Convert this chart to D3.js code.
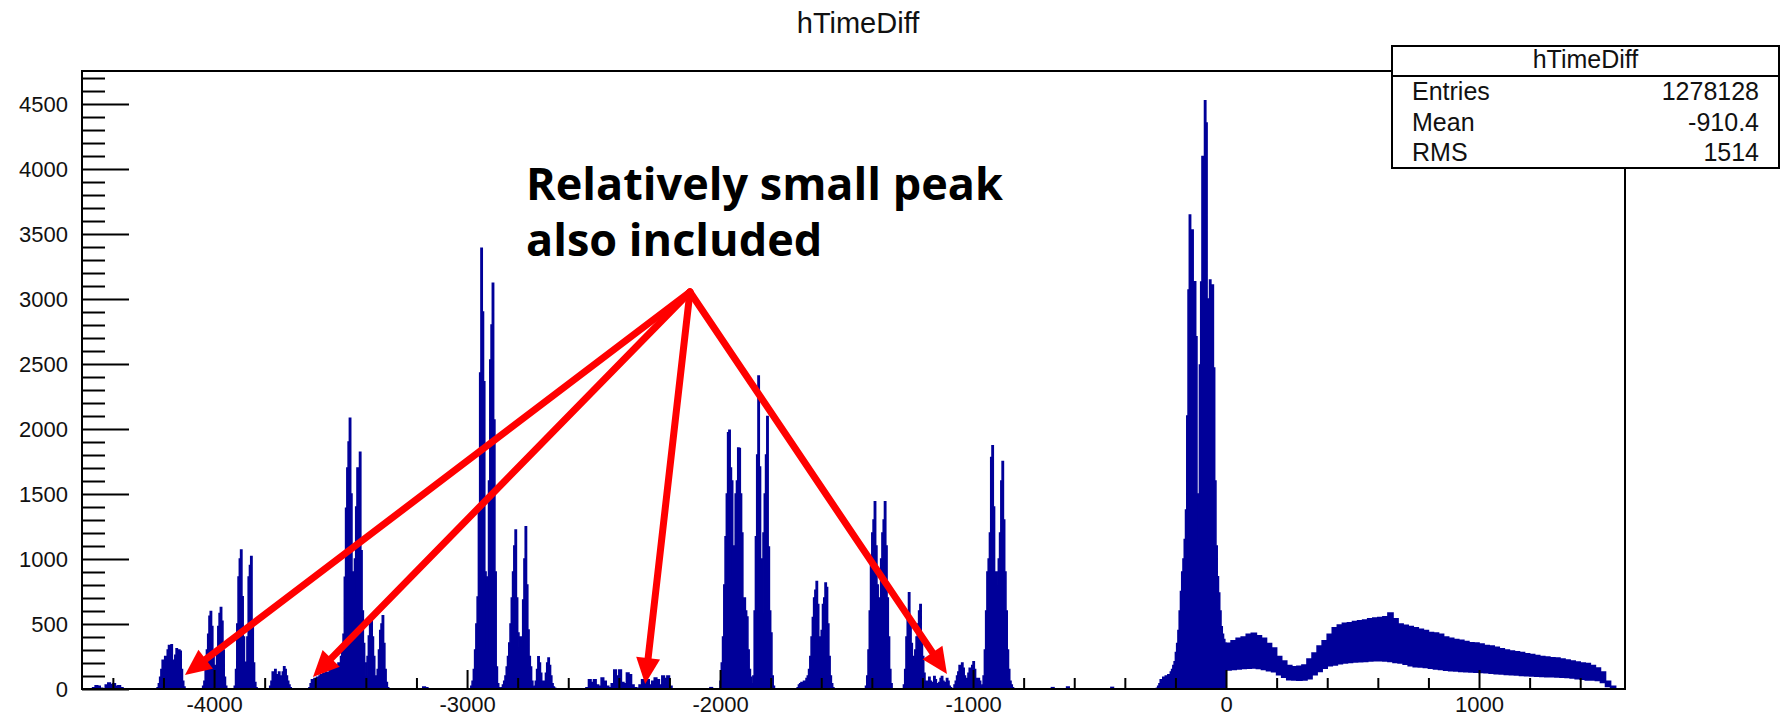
<!DOCTYPE html>
<html>
<head>
<meta charset="utf-8">
<title>hTimeDiff</title>
<script src="https://cdn.jsdelivr.net/npm/d3@7"></script>
<style>
  body { margin: 0; background: #fff; }
  svg { display: block; }
</style>
</head>
<body>
<div id="chart"></div>
<script>
// ---- values ----
const histName = "hTimeDiff";
const xRange = [-4522, 1577];
const yMax = 4754;
const xMajorTicks = [-4000, -3000, -2000, -1000, 0, 1000];
const yMajorTicks = [0, 500, 1000, 1500, 2000, 2500, 3000, 3500, 4000, 4500];
const statsLabels = ["Entries", "Mean", "RMS"];
const statsValues = ["1278128", "-910.4", "1514"];
const noteLines = ["Relatively small peak", "also included"];

// peak groups: counts per bin, [start, binWidth] below
const g4480 = [10, 25, 20, 5, 0, 30, 45, 35, 40, 20, 25, 10];
const g4225 = [10, 40, 90, 150, 220, 160, 250, 200, 300, 335, 250, 340, 220, 180, 260, 310, 200, 300, 290, 150, 60, 15];
const g4045 = [20, 60, 150, 300, 420, 560, 596, 480, 250, 100, 180, 300, 480, 580, 626, 520, 300, 90, 20];
const g3920 = [20, 150, 500, 861, 1000, 1068, 710, 400, 205, 180, 400, 861, 950, 1018, 508, 200, 50, 10];
const g3780 = [20, 60, 130, 100, 150, 90, 110, 130, 70, 100, 130, 170, 150, 100, 60, 30, 10];
const g3625 = [10, 40, 70, 55, 80, 60, 90, 70, 100, 110, 90, 120, 105, 130, 110, 125, 140, 120, 150, 165, 140, 180, 170, 200,
  200, 250, 300, 420, 860, 1390, 1700, 1900, 2082, 1500, 900, 700, 1000, 1400, 1700, 1600, 1820, 1063, 600, 350, 200,
  100, 250, 407, 500, 533, 400, 250, 100, 80, 150, 300, 450, 500, 563, 350, 150, 50, 10];
const g3175 = [15, 10];
const g2985 = [20, 60, 150, 300, 500, 708, 1400, 2430, 3390, 2900, 2364, 900, 277, 861, 1600, 2531, 2800, 3120, 2069, 900, 169, 40, 10];
const g2865 = [10, 30, 60, 100, 169, 250, 354, 500, 700, 900, 1100, 1223, 700, 431, 323, 400, 323, 685, 1000, 1248, 800, 454, 250, 169, 60, 15];
const g2735 = [20, 60, 150, 248, 200, 120, 60, 30, 60, 120, 200, 238, 180, 100, 40, 15, 5];
const g2530 = [10, 70, 50, 70, 30, 20, 85, 60, 20, 10, 40, 146, 100, 146, 50, 40, 123, 110, 30, 10, 5, 30, 70, 50, 70, 30, 60, 85, 70, 30, 100, 80, 100, 20];
const g2040 = [10];
const g2000 = [60, 200, 400, 800, 1170, 1500, 1970, 1990, 1700, 1600, 860, 1100, 1500, 1600, 1854, 1850, 1500, 1200, 685, 700, 600, 554, 300, 150, 90, 40];
const g1870 = [100, 600, 1170, 1800, 2408, 1708, 1000, 585, 1200, 1500, 1800, 2095, 1092, 600, 431, 100, 20];
const g1695 = [10, 30, 40, 50, 40, 60, 50, 80, 100, 150, 250, 400, 550, 700, 760, 826, 650, 400, 300, 450, 650, 700, 815, 780, 500, 250, 100, 40, 10];
const g1425 = [20, 100, 300, 600, 1000, 1200, 1300, 1440, 1100, 800, 600, 700, 1000, 1200, 1300, 1440, 1100, 700, 400, 150, 40];
const g1275 = [30, 150, 400, 600, 740, 550, 350, 250, 200, 300, 400, 500, 600, 650, 400, 250, 120, 60,
  40, 60, 90, 60, 30, 50, 95, 70, 40, 20, 50, 80, 95, 60, 30, 50, 80, 60, 20, 10];
const g1075 = [30, 60, 100, 130, 180, 150, 200, 160, 100, 60, 80, 120, 160, 140, 180, 210, 150, 80, 40, 80, 60, 20];
const g965 = [30, 100, 300, 600, 900, 1000, 1200, 1780, 1870, 1400, 900, 800, 900, 1000, 1200, 1600, 1750, 1300, 900, 600, 300, 150, 60, 30, 10];
const g690 = [10];
const g630 = [15];
const g455 = [12];
const g275 = [5, 20, 40, 70, 60, 90, 70, 100, 80, 110, 100, 130, 150, 180, 210, 280, 350, 450, 600, 750, 900, 1000, 1150, 1377,
  2100, 3069, 3646, 3300, 3531, 2800, 3133, 2710, 1500, 1120, 2492, 3130, 4095, 3200, 4525, 4354, 3000, 1150, 3146, 2672,
  3108, 2469, 1600, 1100, 864, 738, 600, 479, 420, 380, 351];

const groups = [
  [-4480, 10, g4480], [-4225, 5, g4225], [-4045, 5, g4045], [-3920, 5, g3920], [-3780, 5, g3780],
  [-3625, 5, g3625], [-3175, 10, g3175], [-2985, 5, g2985], [-2865, 5, g2865], [-2735, 5, g2735],
  [-2530, 10, g2530], [-2040, 10, g2040], [-2000, 5, g2000], [-1870, 5, g1870], [-1695, 5, g1695],
  [-1425, 5, g1425], [-1275, 5, g1275], [-1075, 5, g1075], [-965, 5, g965], [-690, 10, g690],
  [-630, 10, g630], [-455, 10, g455], [-275, 5, g275]
];

// broad region after the main peak: bins swing between a low and a high level
const bandStart = 0, bandStep = 20;
const bandHigh = [351, 370, 390, 400, 420, 428, 410, 390, 350, 315, 250, 215, 180, 170, 175, 185, 230, 277, 330, 370,
  420, 470, 492, 505, 510, 518, 525, 530, 540, 545, 550, 555, 584, 540, 500, 490, 480, 470, 460, 450,
  435, 430, 420, 400, 390, 380, 375, 365, 355, 353, 345, 335, 330, 320, 310, 300, 292, 287, 280, 270,
  265, 258, 250, 245, 240, 238, 230, 222, 215, 208, 200, 195, 180, 162, 130, 60, 20, 0];
const bandLow = [146, 150, 155, 158, 160, 161, 158, 150, 140, 133, 110, 90, 72, 69, 68, 69, 80, 110, 135, 160,
  180, 185, 195, 200, 205, 208, 210, 212, 215, 218, 218, 215, 212, 205, 200, 190, 180, 172, 170, 165,
  160, 155, 150, 145, 140, 138, 135, 133, 132, 130, 128, 125, 122, 118, 115, 112, 110, 108, 105, 102,
  100, 98, 96, 95, 94, 92, 90, 88, 85, 80, 75, 70, 69, 66, 50, 20, 5, 0];

// red arrows (data coordinates)
const arrowFrom = [-2119, 3054];
const arrowTips = [[-4115, 108], [-3609, 92], [-2296, 38], [-1103, 115]];

// ---- drawing ----
const W = 1783, H = 717;
const frame = {left: 82, top: 71, right: 1625, bottom: 689};
const histColor = "#000099";
const axisFont = "'Liberation Sans', Arial, Helvetica, sans-serif";

const svg = d3.select("#chart").append("svg")
  .attr("width", W).attr("height", H)
  .style("background", "#fff");

const x = d3.scaleLinear().domain(xRange).range([frame.left, frame.right]);
const y = d3.scaleLinear().domain([0, yMax]).range([frame.bottom, frame.top]);

// histogram groups
const stepArea = d3.area()
  .curve(d3.curveStepAfter)
  .x(d => x(d[0]))
  .y0(y(0))
  .y1(d => y(d[1]));

const hist = svg.append("g");
groups.forEach(([start, step, counts]) => {
  const pts = counts.map((c, i) => [start + i * step, c]);
  pts.push([start + counts.length * step, counts[counts.length - 1]]);
  hist.append("path")
    .attr("d", stepArea(pts))
    .attr("fill", histColor)
    .attr("stroke", histColor)
    .attr("stroke-width", 1.6)
    .attr("stroke-linejoin", "miter");
});

// the band
const bandPts = bandHigh.map((h, i) => ({v: bandStart + i * bandStep, lo: bandLow[i], hi: h}));
const bandArea = d3.area()
  .curve(d3.curveStepAfter)
  .x(d => x(d.v))
  .y0(d => y(d.lo))
  .y1(d => y(d.hi));
hist.append("path")
  .attr("d", bandArea(bandPts))
  .attr("fill", histColor)
  .attr("stroke", histColor)
  .attr("stroke-width", 1.6);

// frame
svg.append("rect")
  .attr("x", frame.left).attr("y", frame.top)
  .attr("width", frame.right - frame.left)
  .attr("height", frame.bottom - frame.top)
  .attr("fill", "none")
  .attr("stroke", "#000")
  .attr("stroke-width", 2);

// axes, ticks pointing inward like ROOT
const xMinor = d3.range(-4400, 1577, 200).filter(v => !xMajorTicks.includes(v));
const yMinor = d3.range(0, yMax, 100).filter(v => !yMajorTicks.includes(v));

const gx = svg.append("g").attr("transform", `translate(0,${frame.bottom})`);
gx.append("g").call(d3.axisBottom(x).tickValues(xMinor).tickSize(-11).tickFormat(""));
gx.append("g").call(d3.axisBottom(x).tickValues(xMajorTicks).tickSize(-19).tickPadding(7).tickFormat(d => String(d)));

const gy = svg.append("g").attr("transform", `translate(${frame.left},0)`);
gy.append("g").call(d3.axisLeft(y).tickValues(yMinor).tickSize(-23).tickFormat(""));
gy.append("g").call(d3.axisLeft(y).tickValues(yMajorTicks).tickSize(-47).tickPadding(14).tickFormat(d => String(d)));

svg.selectAll(".domain").remove();
svg.selectAll(".tick line").attr("stroke", "#000").attr("stroke-width", 2);
svg.selectAll(".tick text")
  .attr("font-family", axisFont)
  .attr("font-size", 22)
  .attr("fill", "#111");

// title
svg.append("text")
  .attr("x", 858).attr("y", 33)
  .attr("text-anchor", "middle")
  .attr("font-family", axisFont)
  .attr("font-size", 29)
  .attr("fill", "#111")
  .text(histName);

// stats box
const box = {left: 1392, top: 46, right: 1779, bottom: 168, head: 76};
const stats = svg.append("g").attr("font-family", axisFont).attr("font-size", 25).attr("fill", "#111");
stats.append("rect")
  .attr("x", box.left).attr("y", box.top)
  .attr("width", box.right - box.left).attr("height", box.bottom - box.top)
  .attr("fill", "#fff").attr("stroke", "#000").attr("stroke-width", 2);
stats.append("line")
  .attr("x1", box.left).attr("x2", box.right)
  .attr("y1", box.head).attr("y2", box.head)
  .attr("stroke", "#000").attr("stroke-width", 2);
stats.append("text")
  .attr("x", (box.left + box.right) / 2).attr("y", 68)
  .attr("text-anchor", "middle")
  .text(histName);
statsLabels.forEach((lab, i) => {
  const by = 100 + i * 30.5;
  stats.append("text").attr("x", 1412).attr("y", by).text(lab);
  stats.append("text").attr("x", 1759).attr("y", by).attr("text-anchor", "end").text(statsValues[i]);
});

// red arrows
const arrows = svg.append("g");
const p0 = [x(arrowFrom[0]), y(arrowFrom[1])];
const headLen = 26, headHalf = 12;
arrowTips.forEach(t => {
  const tip = [x(t[0]), y(t[1])];
  const dx = tip[0] - p0[0], dy = tip[1] - p0[1];
  const len = Math.hypot(dx, dy);
  const ux = dx / len, uy = dy / len;
  const base = [tip[0] - ux * headLen, tip[1] - uy * headLen];
  arrows.append("line")
    .attr("x1", p0[0]).attr("y1", p0[1])
    .attr("x2", base[0] + ux * 2).attr("y2", base[1] + uy * 2)
    .attr("stroke", "#ff0000")
    .attr("stroke-width", 7)
    .attr("stroke-linecap", "round");
  arrows.append("path")
    .attr("d", d3.line()([
      tip,
      [base[0] - uy * headHalf, base[1] + ux * headHalf],
      [base[0] + uy * headHalf, base[1] - ux * headHalf]
    ]) + "Z")
    .attr("fill", "#ff0000");
});

// annotation text
const note = svg.append("g")
  .attr("font-family", "'Open Sans', 'Noto Sans', sans-serif")
  .attr("font-weight", "bold")
  .attr("font-size", 42)
  .attr("fill", "#000");
const l1 = note.append("text").attr("x", 526).attr("y", 200).text(noteLines[0]);
note.append("text").attr("x", 526).attr("y", 256).text(noteLines[1]);
const w1 = l1.node().getComputedTextLength();
if (w1 > 0) note.attr("font-size", 42 * 477 / w1);
</script>
</body>
</html>
